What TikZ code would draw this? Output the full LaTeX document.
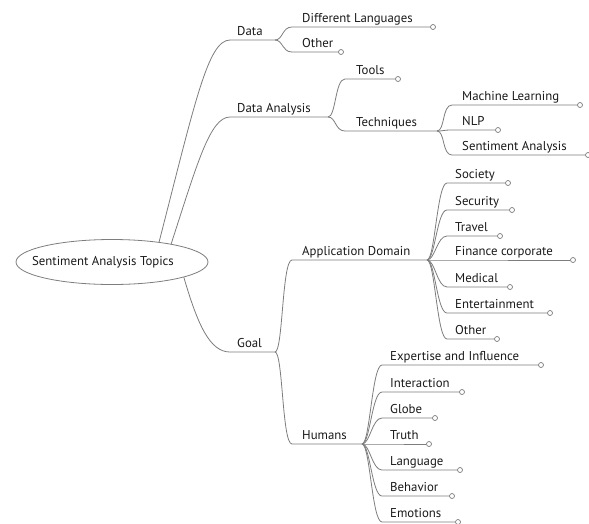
\documentclass[tikz,border=0pt]{standalone}
\usepackage{fontspec}
\setmainfont{PT Sans}
\usetikzlibrary{shapes.geometric, calc, positioning}
\definecolor{mapgray}{RGB}{125,125,125}
\definecolor{mapink}{RGB}{25,25,25}

\begin{document}
\begin{tikzpicture}[x=1pt, y=-1pt, font=\fontsize{12.8}{15}\selectfont]
        \tikzstyle{topic}=[anchor=base west, inner sep=0pt, text=mapink]
        \tikzstyle{leaf}=[circle, draw=mapgray, fill=white, line width=0.7pt, inner sep=0pt, minimum size=5pt]
        \tikzstyle{branch}=[draw=mapgray, line width=0.8pt]
        \tikzset{fork/.style={to path={.. controls ([xshift=8pt]\tikztostart) and ([xshift=-10pt]\tikztotarget) .. (\tikztotarget)}}}

        \useasboundingbox (0,0) rectangle (589,523);

        % Root
        \node[ellipse, draw=mapgray, line width=0.8pt, minimum width=192pt, minimum height=45pt, inner sep=0pt,
              label={[text=mapink, xshift=-9pt]center:Sentiment Analysis Topics}] (root) at (112,262) {};

        % First level
        \node[topic] (data) at (237,35) {Data};
        \coordinate (data-s) at (230,40);
        \coordinate (data-j) at (275,40);
        \node[topic] (analysis) at (237,112) {Data Analysis};
        \coordinate (analysis-s) at (230,117);
        \coordinate (analysis-j) at (328,117);
        \node[topic] (goal) at (237,347) {Goal};
        \coordinate (goal-s) at (230,352);
        \coordinate (goal-j) at (275,352);

        \draw[branch] (root.23) .. controls +(36,-140) and +(-22,0) .. (data-s) -- (data-j);
        \draw[branch] (root.17) .. controls +(26,-80) and +(-20,0) .. (analysis-s) -- (analysis-j);
        \draw[branch] (root.-12) .. controls +(14,48) and +(-20,0) .. (goal-s) -- (goal-j);

        % Data
        \foreach \name/\y/\xe/\txt in {languages/27/433/Different Languages, otherdata/52/341/Other}{
            \coordinate (\name-s) at (292,\y);
            \node[topic] (\name) at (302,\y-5) {\txt};
            \node[leaf] (\name-e) at (\xe,\y) {};
            \draw[branch] (data-j) to[fork] (\name-s) -- (\name-e);
        }

        % Data Analysis
        \node[topic] (tools) at (356,74) {Tools};
        \coordinate (tools-s) at (345,79);
        \node[leaf] (tools-e) at (398,79) {};
        \draw[branch] (analysis-j) to[fork] (tools-s) -- (tools-e);
        \node[topic] (techniques) at (356,126) {Techniques};
        \coordinate (techniques-s) at (345,131);
        \coordinate (techniques-j) at (437,131);
        \draw[branch] (analysis-j) to[fork] (techniques-s) -- (techniques-j);

        \foreach \name/\y/\xe/\txt in {ml/105/580/Machine Learning, nlp/130/498/NLP, sa/155/588/Sentiment Analysis}{
            \coordinate (\name-s) at (452,\y);
            \node[topic] (\name) at (462,\y-5) {\txt};
            \node[leaf] (\name-e) at (\xe,\y) {};
            \draw[branch] (techniques-j) to[fork] (\name-s) -- (\name-e);
        }

        % Goal
        \node[topic] (domain) at (302,255) {Application Domain};
        \coordinate (domain-s) at (292,260);
        \coordinate (domain-j) at (427,260);
        \draw[branch] (goal-j) to[fork] (domain-s) -- (domain-j);
        \node[topic] (humans) at (302,439) {Humans};
        \coordinate (humans-s) at (292,444);
        \coordinate (humans-j) at (362,444);
        \draw[branch] (goal-j) to[fork] (humans-s) -- (humans-j);

        \foreach \name/\y/\xe/\txt in {society/183/508/Society, security/210/512/Security, travel/236/500/Travel,
            finance/260/573/Finance corporate, medical/287/510/Medical, entertainment/313/550/Entertainment,
            otherdomain/339/497/Other}{
            \coordinate (\name-s) at (447,\y);
            \node[topic] (\name) at (455,\y-5) {\txt};
            \node[leaf] (\name-e) at (\xe,\y) {};
            \draw[branch] (domain-j) to[fork] (\name-s) -- (\name-e);
        }

        \foreach \name/\y/\xe/\txt in {expertise/365/541/Expertise and Influence, interaction/392/462/Interaction,
            globe/418/435/Globe, truth/444/429/Truth, language/470/460/Language, behavior/496/452/Behavior,
            emotions/522/458/Emotions}{
            \coordinate (\name-s) at (382,\y);
            \node[topic] (\name) at (390,\y-5) {\txt};
            \node[leaf] (\name-e) at (\xe,\y) {};
            \draw[branch] (humans-j) to[fork] (\name-s) -- (\name-e);
        }
    \end{tikzpicture}
\end{document}
